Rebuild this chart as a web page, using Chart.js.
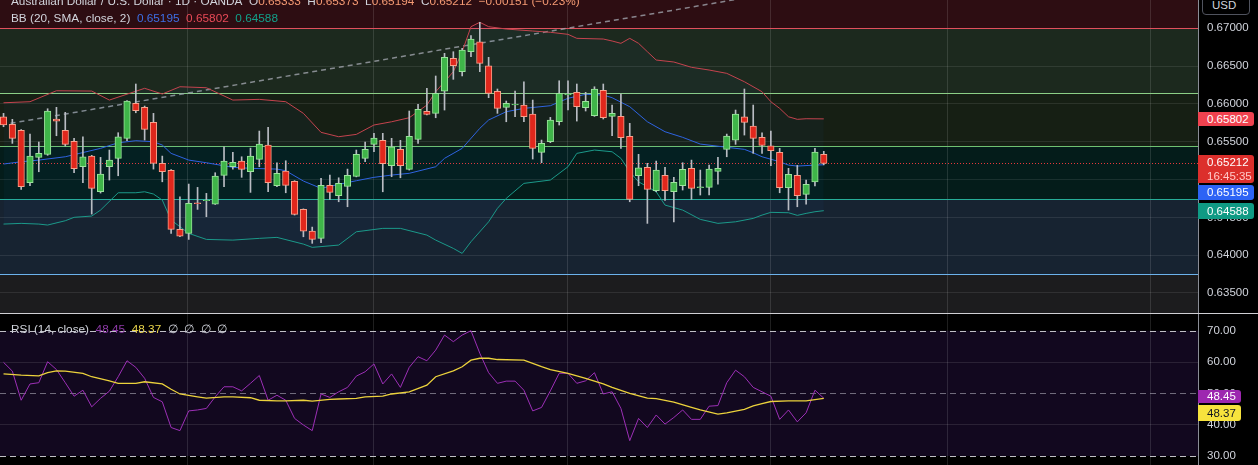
<!DOCTYPE html>
<html>
<head>
<meta charset="utf-8">
<title>AUD/USD 1D</title>
<script src="https://cdn.jsdelivr.net/npm/chart.js@4.4.1/dist/chart.umd.min.js"></script>
<style>
  html, body { margin: 0; padding: 0; background: #000; overflow: hidden; }
  #wrap { position: relative; width: 1258px; height: 465px; overflow: hidden; }
  #priceCanvas { position: absolute; left: 0; top: 0; }
  #rsiCanvas { position: absolute; left: 0; top: 313px; }
  .txt { position: absolute; left: 11px; white-space: nowrap; color: #d1d4dc; line-height: 16px; }
  .tag { position: absolute; left: 1198px; padding-left: 9px; box-sizing: border-box; color: #fff; border-radius: 0 3px 3px 0; white-space: nowrap; }
  #usd { position: absolute; left: 1202px; top: -5px; width: 48px; height: 20px; box-sizing: border-box; border: 1px solid #50535e; border-radius: 4px; color: #d1d4dc; padding: 3px 0 0 9px; background: #000; }
</style>
</head>
<body>
<div id="wrap">
  <canvas id="priceCanvas" width="1258" height="313"></canvas>
  <canvas id="rsiCanvas" width="1258" height="152"></canvas>
  <div id="usd">USD</div>
  <div id="legendTitle" class="txt" style="top:-7px">Australian Dollar / U.S. Dollar · 1D · OANDA&nbsp;&nbsp;O<span class="v">0.65333</span>&nbsp;&nbsp;H<span class="v">0.65373</span>&nbsp;&nbsp;L<span class="v">0.65194</span>&nbsp;&nbsp;C<span class="v">0.65212</span>&nbsp;&nbsp;<span class="v">−0.00151 (−0.23%)</span></div>
  <div id="legendBB" class="txt" style="top:10px">BB (20, SMA, close, 2)&nbsp;&nbsp;<span style="color:#3d6fe6">0.65195</span>&nbsp;&nbsp;<span style="color:#e84a57">0.65802</span>&nbsp;&nbsp;<span style="color:#12a08a">0.64588</span></div>
  <div id="legendRSI" class="txt" style="top:321px">RSI (14, close)&nbsp;&nbsp;<span style="color:#8e3aa8">48.45</span>&nbsp;&nbsp;<span style="color:#e9d54a">48.37</span>&nbsp;&nbsp;∅&nbsp;&nbsp;∅&nbsp;&nbsp;∅&nbsp;&nbsp;∅</div>
</div>
<script>
// daily candles, oldest first
const opens = [0.65830,0.65730,0.65650,0.64957,0.65293,0.65333,0.65800,0.65650,0.65505,0.65169,
  0.65310,0.64838,0.65169,0.65280,0.65545,0.66008,0.65955,0.65756,0.65214,0.65121,
  0.64341,0.64288,0.64693,0.64719,0.64675,0.65055,0.65169,0.65244,0.65103,0.65267,
  0.65456,0.64918,0.65112,0.64976,0.64605,0.64318,0.64222,0.64923,0.64785,0.64910,
  0.65042,0.65280,0.65465,0.65518,0.65182,0.65399,0.65134,0.65531,0.65902,0.65875,
  0.66170,0.66603,0.66426,0.66690,0.66822,0.66505,0.66166,0.65955,0.65985,0.65985,
  0.65866,0.65359,0.65500,0.65764,0.66120,0.66153,0.65950,0.65843,0.66179,0.65836,
  0.65836,0.65571,0.65050,0.65161,0.64851,0.65055,0.64838,0.64918,0.65148,0.64891,
  0.64896,0.65108,0.65399,0.65522,0.65830,0.65707,0.65558,0.65447,0.65359,0.64891,
  0.65055,0.64804,0.64970,0.65333];
const highs = [0.65875,0.65796,0.65660,0.65601,0.65496,0.65936,0.65955,0.65889,0.65545,0.65566,
  0.65320,0.65293,0.65390,0.65619,0.66045,0.66263,0.65972,0.65875,0.65310,0.65130,
  0.64772,0.64940,0.64896,0.64817,0.65090,0.65434,0.65359,0.65301,0.65416,0.65641,
  0.65690,0.65222,0.65248,0.64985,0.64612,0.64371,0.65015,0.65059,0.65023,0.65138,
  0.65390,0.65496,0.65611,0.65611,0.65545,0.65518,0.65906,0.65994,0.66206,0.66369,
  0.66669,0.66690,0.66735,0.66902,0.67079,0.66616,0.66197,0.66038,0.66170,0.66293,
  0.66051,0.65522,0.65822,0.66306,0.66306,0.66263,0.66153,0.66227,0.66263,0.65985,
  0.66131,0.65743,0.65333,0.65214,0.65244,0.65161,0.65029,0.65222,0.65257,0.65125,
  0.65191,0.65293,0.65601,0.65919,0.66197,0.65985,0.65619,0.65641,0.65412,0.65148,
  0.65187,0.64993,0.65412,0.65373];
const lows = [0.65698,0.65478,0.64870,0.64918,0.65103,0.65320,0.65579,0.65443,0.65090,0.64957,
  0.64543,0.64821,0.64993,0.65050,0.65513,0.65883,0.65522,0.65138,0.64970,0.64288,
  0.64245,0.64208,0.64605,0.64508,0.64670,0.64904,0.65138,0.65029,0.64830,0.65169,
  0.64838,0.64904,0.64825,0.64530,0.64243,0.64156,0.64164,0.64738,0.64706,0.64640,
  0.65035,0.65235,0.65367,0.64838,0.65037,0.65023,0.65125,0.65478,0.65853,0.65817,
  0.65919,0.66325,0.66369,0.66624,0.66426,0.66082,0.65875,0.65764,0.65830,0.65764,
  0.65271,0.65222,0.65487,0.65721,0.65919,0.65773,0.65906,0.65835,0.65800,0.65579,
  0.65412,0.64706,0.64918,0.64420,0.64838,0.64724,0.64441,0.64861,0.64738,0.64795,
  0.64795,0.64940,0.65301,0.65465,0.65588,0.65346,0.65346,0.65182,0.64825,0.64596,
  0.64640,0.64675,0.64914,0.65194];
const closes = [0.65721,0.65545,0.64904,0.65310,0.65346,0.65906,0.65773,0.65465,0.65142,0.65301,
  0.64883,0.65072,0.65257,0.65566,0.66038,0.65910,0.65664,0.65214,0.65103,0.64341,
  0.64252,0.64685,0.64680,0.64728,0.65046,0.65244,0.65227,0.65134,0.65310,0.65469,
  0.64957,0.65082,0.64923,0.64539,0.64318,0.64208,0.64923,0.64830,0.64949,0.65055,
  0.65333,0.65399,0.65549,0.65209,0.65434,0.65182,0.65571,0.65928,0.65862,0.66140,
  0.66616,0.66505,0.66713,0.66858,0.66537,0.66140,0.65941,0.66008,0.65998,0.65830,
  0.65412,0.65478,0.65787,0.66140,0.66126,0.65963,0.66034,0.66197,0.65817,0.65875,
  0.65553,0.64738,0.65156,0.64870,0.65125,0.64851,0.64962,0.65134,0.64883,0.64904,
  0.65138,0.65148,0.65575,0.65866,0.65756,0.65545,0.65452,0.65381,0.64891,0.65068,
  0.64785,0.64936,0.65363,0.65212];

// Bollinger Bands (20, 2), read at candle positions
const bbUpperIdx = [0,3,6,10,12,16,18,20,23,26,29,32,34,36,38,40,42,44,46,48,
  49,51,52,53,54,55,57,60,62,64,65,68,69,70,71,72,73,74,76,78,80,82,84,86,87,88,89,90,91,93];
const bbUpper = [0.66015,0.66029,0.66174,0.66170,0.66051,0.66206,0.66131,0.66227,0.66214,0.66051,
  0.66060,0.66029,0.65875,0.65624,0.65566,0.65597,0.65721,0.65764,0.65817,0.65985,
  0.66161,0.66426,0.66690,0.67021,0.67079,0.67021,0.66990,0.66964,0.66947,0.66920,
  0.66867,0.66858,0.66832,0.66801,0.66867,0.66801,0.66690,0.66580,0.66554,0.66484,
  0.66448,0.66404,0.66293,0.66161,0.66029,0.65941,0.65830,0.65796,0.65804,0.65802];
const bbMidIdx = [0,2,4,7,11,13,15,17,18,19,21,23,26,28,31,32,34,36,38,40,
  42,44,46,49,50,52,54,55,57,59,62,64,66,68,69,71,73,75,77,79,82,84,85,86,88,89,90,92,93];
const bbMid = [0.65205,0.65235,0.65257,0.65301,0.65412,0.65486,0.65513,0.65500,0.65456,0.65346,
  0.65257,0.65222,0.65161,0.65148,0.65138,0.65116,0.64980,0.64883,0.64936,0.64984,
  0.65029,0.65059,0.65082,0.65169,0.65280,0.65412,0.65677,0.65787,0.65897,0.65941,
  0.65976,0.66074,0.66127,0.66117,0.66082,0.65963,0.65764,0.65632,0.65558,0.65469,
  0.65426,0.65399,0.65354,0.65301,0.65235,0.65191,0.65178,0.65191,0.65195];
const bbLowerIdx = [0,2,4,5,7,8,10,11,13,15,16,17,18,19,21,23,26,29,31,34,
  35,38,40,43,45,48,49,51,52,53,55,56,57,59,62,64,65,67,69,70,
  71,72,74,75,77,79,81,83,85,86,87,89,90,91,92,93];
const bbLower = [0.64411,0.64420,0.64411,0.64398,0.64455,0.64500,0.64517,0.64596,0.64825,0.64825,
  0.64838,0.64808,0.64728,0.64464,0.64288,0.64208,0.64199,0.64222,0.64235,0.64146,
  0.64103,0.64133,0.64309,0.64354,0.64354,0.64265,0.64199,0.64089,0.64023,0.64177,
  0.64441,0.64619,0.64751,0.64949,0.64993,0.65169,0.65346,0.65390,0.65367,0.65280,
  0.65103,0.64970,0.64838,0.64662,0.64596,0.64473,0.64420,0.64441,0.64486,0.64530,
  0.64566,0.64561,0.64526,0.64552,0.64574,0.64588];

// RSI (14) and its moving average
const rsi = [59.9,57.1,47.8,53.0,53.4,60.1,57.6,53.4,49.1,51.0,
  45.7,48.4,50.7,55.3,60.4,58.3,54.8,48.7,47.3,39.1,
  38.1,44.4,44.7,45.2,48.9,52.1,52.1,50.8,53.2,55.7,
  47.8,49.4,47.8,42.0,39.9,38.1,49.8,48.7,50.5,51.9,
  55.5,56.9,59.4,53.0,56.2,51.9,58.3,61.7,60.4,63.8,
  68.6,66.5,68.6,70.0,62.8,56.6,53.2,53.9,53.9,51.0,
  44.4,45.5,50.8,56.4,56.4,53.2,54.0,56.6,49.8,50.5,
  45.2,34.9,42.0,39.1,43.1,40.2,42.3,44.7,41.7,41.7,
  45.9,46.1,53.4,57.4,55.3,51.9,50.5,49.1,41.7,44.7,
  40.9,43.8,51.0,48.45];
const rsiMaIdx = [0,2,4,5,6,7,9,10,12,13,15,16,18,19,20,22,23,25,26,28,
  29,31,32,34,35,37,38,40,41,43,44,46,48,49,51,52,53,54,55,56,
  59,61,62,64,66,68,69,71,73,74,76,78,79,81,82,84,85,86,87,89,91,93];
const rsiMa = [56.2,55.8,55.6,56.6,57.2,57.1,56.4,55.3,54.0,53.2,53.2,53.7,53.0,51.3,49.8,48.9,48.5,48.9,48.9,48.6,
  47.8,47.6,47.6,47.8,47.5,48.1,48.2,48.4,48.9,49.1,49.8,50.5,52.6,55.3,57.2,58.5,60.6,61.2,61.2,60.8,
  60.6,58.5,57.6,56.4,54.8,53.0,51.9,50.0,48.5,48.3,47.2,45.5,44.7,43.4,43.8,44.9,46.0,46.7,47.4,47.6,47.6,48.37];

// drawn objects
const trendIdx = [0.8, 84];
const trendVals = [0.65743, 0.67400];
const levelPrices = [0.67000, 0.66140, 0.65443, 0.64738, 0.63746];
const levelColors = ['#e0505d', '#8ccf86', '#6fc272', '#27ad98', '#6cb2ec'];
const zoneFills = ['#2d0d12', '#1c291e', '#161f14', '#041c1a', '#172331', '#1c1c1e'];

const priceTicks = [0.635, 0.640, 0.645, 0.650, 0.655, 0.660, 0.665, 0.670];
const rsiTicks = [30, 40, 50, 60, 70];
const rsiDashed = [70, 50, 30];
const gridIdx = [20.9, 41.9, 64, 87, 107.05, 130];
const lastPrice = 0.65212;

const X_MIN = -0.4, X_MAX = 135.43;
const GRID = 'rgba(255,255,255,0.09)';

function fontAvailable(name) {
  const c = document.createElement('canvas').getContext('2d');
  const probe = 'AUD 0.65195 BB SMA close';
  c.font = '30px monospace';
  const base = c.measureText(probe).width;
  c.font = '30px "' + name + '", monospace';
  return c.measureText(probe).width !== base;
}
const narrow = fontAvailable('Liberation Sans Narrow');
const FONT_FAMILY = narrow ? '"Liberation Sans Narrow", "Liberation Sans", sans-serif' : '"Liberation Sans", Arial, sans-serif';
const FONT_SIZE = narrow ? 14 : 11.5;
const LEGEND_SIZE = narrow ? 14.2 : 11.8;
Chart.defaults.font.family = FONT_FAMILY;
Chart.defaults.font.size = FONT_SIZE;
document.getElementById('wrap').style.font = FONT_SIZE + 'px ' + FONT_FAMILY;
document.querySelectorAll('.txt').forEach(el => { el.style.fontSize = LEGEND_SIZE + 'px'; });
document.querySelectorAll('.v').forEach(s => { s.style.color = '#f59a73'; });

const pts = (xs, ys) => xs.map((x, k) => ({x: x, y: ys[k]}));
const candleIdx = opens.map((_, i) => i);
const isUp = i => closes[i] >= opens[i];
const noPad = s => { s.width = 60; s.paddingTop = 0; s.paddingBottom = 0; };

const zonesPlugin = {
  id: 'zones',
  beforeDraw(chart) {
    const {ctx, chartArea: a, scales: {y}} = chart;
    const edges = [y.max, ...levelPrices, y.min];
    ctx.save();
    for (let k = 0; k < zoneFills.length; k++) {
      const top = y.getPixelForValue(edges[k]);
      const bot = y.getPixelForValue(edges[k + 1]);
      ctx.fillStyle = zoneFills[k];
      ctx.fillRect(a.left, top, a.right - a.left, bot - top);
    }
    ctx.restore();
  },
  beforeDatasetsDraw(chart) {
    const {ctx, chartArea: a, scales: {y}} = chart;
    ctx.save();
    ctx.lineWidth = 1.2;
    levelPrices.forEach((p, k) => {
      const py = Math.round(y.getPixelForValue(p)) + 0.5;
      ctx.strokeStyle = levelColors[k];
      ctx.beginPath(); ctx.moveTo(a.left, py); ctx.lineTo(a.right, py); ctx.stroke();
    });
    const ly = Math.round(y.getPixelForValue(lastPrice)) + 0.5;
    ctx.lineWidth = 1;
    ctx.strokeStyle = '#e5393b';
    ctx.setLineDash([1, 2]);
    ctx.beginPath(); ctx.moveTo(a.left, ly); ctx.lineTo(a.right, ly); ctx.stroke();
    ctx.restore();
  }
};

const xScale = {
  type: 'linear', min: X_MIN, max: X_MAX, offset: false,
  afterFit: s => { s.height = 0; s.paddingLeft = 0; s.paddingRight = 0; },
  afterBuildTicks: s => { s.ticks = gridIdx.map(v => ({value: v})); },
  ticks: {display: false},
  grid: {color: 'rgba(255,255,255,0.12)', drawTicks: false, offset: false},
  border: {display: false}
};

const priceChart = new Chart(document.getElementById('priceCanvas'), {
  type: 'bar',
  data: {
    datasets: [
      {
        label: 'body',
        data: candleIdx.map(i => ({x: i, y: [opens[i], closes[i]]})),
        backgroundColor: c => isUp(c.dataIndex) ? '#3fb549' : '#e0271c',
        borderColor: c => isUp(c.dataIndex) ? '#9be49c' : '#f9a08a',
        borderWidth: 1, borderSkipped: false, barThickness: 6.5, grouped: false, order: 1
      },
      {
        label: 'wick',
        data: candleIdx.map(i => ({x: i, y: [lows[i], highs[i]]})),
        backgroundColor: '#b9bcc3', barThickness: 1, grouped: false, order: 2
      },
      {
        type: 'line', label: 'upper', data: pts(bbUpperIdx, bbUpper),
        borderColor: '#c4434e', borderWidth: 1, pointRadius: 0,
        fill: 4, backgroundColor: 'rgba(33,150,243,0.035)', order: 4
      },
      {
        type: 'line', label: 'basis', data: pts(bbMidIdx, bbMid),
        borderColor: '#2f62e0', borderWidth: 1, pointRadius: 0, order: 4
      },
      {
        type: 'line', label: 'lower', data: pts(bbLowerIdx, bbLower),
        borderColor: '#1c9a88', borderWidth: 1, pointRadius: 0, order: 4
      },
      {
        type: 'line', label: 'trend', data: pts(trendIdx, trendVals),
        borderColor: 'rgba(160,164,172,0.8)', borderWidth: 1.5, borderDash: [5, 4],
        pointRadius: 0, order: 5
      }
    ]
  },
  options: {
    responsive: false, animation: false, events: [],
    layout: {padding: 0},
    plugins: {legend: {display: false}, tooltip: {enabled: false}},
    scales: {
      x: xScale,
      y: {
        position: 'right', min: 0.63235, max: 0.67374, beginAtZero: false,
        afterFit: noPad,
        afterBuildTicks: s => { s.ticks = priceTicks.map(v => ({value: v})); },
        ticks: {color: '#d1d4dc', padding: 9, callback: v => v.toFixed(5)},
        grid: {color: GRID, drawTicks: false},
        border: {color: '#8a8d96'}
      }
    }
  },
  plugins: [zonesPlugin]
});

const rsiPlugin = {
  id: 'rsiBands',
  beforeDraw(chart) {
    const {ctx, chartArea: a, scales: {y}} = chart;
    const top = y.getPixelForValue(70), bot = y.getPixelForValue(30);
    ctx.save();
    ctx.fillStyle = '#12081f';
    ctx.fillRect(a.left, top, a.right - a.left, bot - top);
    ctx.restore();
  },
  beforeDatasetsDraw(chart) {
    const {ctx, chartArea: a, scales: {y}} = chart;
    ctx.save();
    ctx.lineWidth = 1;
    ctx.setLineDash([6, 4]);
    rsiDashed.forEach(v => {
      const py = Math.round(y.getPixelForValue(v)) + 0.5;
      ctx.strokeStyle = v === 50 ? 'rgba(190,190,200,0.55)' : 'rgba(225,225,230,0.85)';
      ctx.beginPath(); ctx.moveTo(a.left, py); ctx.lineTo(a.right, py); ctx.stroke();
    });
    ctx.restore();
  },
  afterDraw(chart) {
    const ctx = chart.ctx;
    ctx.save();
    ctx.fillStyle = '#cfcfd4';
    ctx.fillRect(0, 0, chart.width, 1);
    ctx.restore();
  }
};

const rsiChart = new Chart(document.getElementById('rsiCanvas'), {
  type: 'line',
  data: {
    datasets: [
      {label: 'RSI', data: pts(candleIdx, rsi), borderColor: '#9c2fb6', borderWidth: 1, pointRadius: 0, order: 2},
      {label: 'RSI MA', data: pts(rsiMaIdx, rsiMa), borderColor: '#ecd23c', borderWidth: 1.3, pointRadius: 0, order: 1}
    ]
  },
  options: {
    responsive: false, animation: false, events: [],
    layout: {padding: 0},
    plugins: {legend: {display: false}, tooltip: {enabled: false}},
    scales: {
      x: xScale,
      y: {
        position: 'right', min: 27.13, max: 75.65,
        afterFit: noPad,
        afterBuildTicks: s => { s.ticks = rsiTicks.map(v => ({value: v})); },
        ticks: {color: '#d1d4dc', padding: 9, callback: v => v.toFixed(2)},
        grid: {color: c => rsiDashed.includes(c.tick.value) ? 'rgba(0,0,0,0)' : 'rgba(255,255,255,0.1)', drawTicks: false},
        border: {color: '#8a8d96'}
      }
    }
  },
  plugins: [rsiPlugin]
});

// price and indicator tags on the axes
const wrap = document.getElementById('wrap');
function addTag(html, top, height, bg, color, width, lineH) {
  const el = document.createElement('div');
  el.className = 'tag';
  el.innerHTML = html;
  el.style.top = top + 'px';
  el.style.height = height + 'px';
  el.style.lineHeight = (lineH || height) + 'px';
  el.style.width = width + 'px';
  el.style.background = bg;
  el.style.color = color;
  wrap.appendChild(el);
  return el;
}
const py = v => priceChart.scales.y.getPixelForValue(v);
const ry = v => 313 + rsiChart.scales.y.getPixelForValue(v);

addTag(bbUpper[bbUpper.length - 1].toFixed(5), py(bbUpper[bbUpper.length - 1]) - 7, 14, '#f0424f', '#fff', 56);
const lastTop = py(lastPrice) - 8;
addTag('0.65212<br><span style="color:#ffc9c9">16:45:35</span>', lastTop, 28, '#dc2f2c', '#fff', 56, 14);
addTag(bbMid[bbMid.length - 1].toFixed(5), lastTop + 30, 15, '#2d63f5', '#fff', 56);
addTag(bbLower[bbLower.length - 1].toFixed(5), py(bbLower[bbLower.length - 1]) - 8, 16, '#0f9a84', '#fff', 56);

const rsiY = ry(rsi[rsi.length - 1]);
addTag(rsi[rsi.length - 1].toFixed(2), rsiY - 8, 13, '#9d27b0', '#fff', 43);
addTag(rsiMa[rsiMa.length - 1].toFixed(2), rsiY + 7, 16, '#f7e33d', '#131722', 43);
</script>
</body>
</html>
